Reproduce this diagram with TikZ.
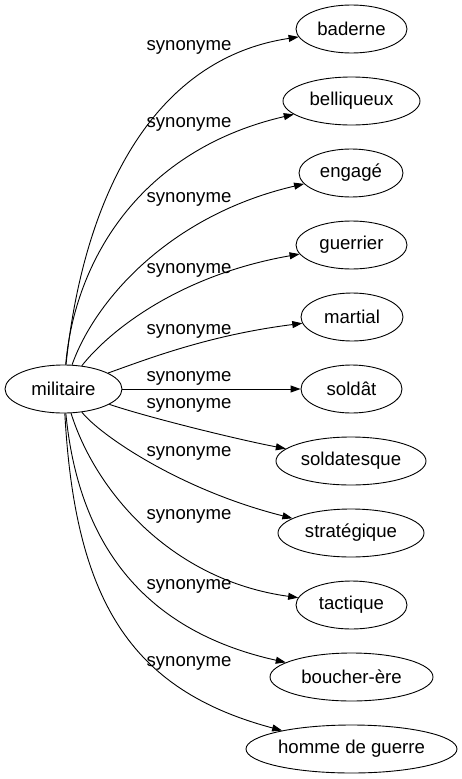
\documentclass[tikz,border=0pt]{standalone}
\usepackage{fontspec}
\setmainfont{Liberation Sans}
\usetikzlibrary{arrows.meta,shapes.geometric}
\begin{document}
\begin{tikzpicture}[x=1pt,y=-1pt,
  word/.style={ellipse,draw,line width=0.9pt,inner sep=0pt,minimum height=48pt,font=\fontsize{18.6}{20}\selectfont},
  syn/.style={font=\fontsize{18.6}{20}\selectfont,inner sep=0pt},
  link/.style={line width=0.9pt,-{Triangle[length=10pt,width=7pt]}}]
\fill[white] (0,0) rectangle (462,779);
\useasboundingbox (0,0) rectangle (462,779);

\node[word,minimum width=117pt] (m) at (63.5,389) {militaire};
\node[word,minimum width=111pt] (t1) at (351.5,29) {baderne};
\node[word,minimum width=137pt] (t2) at (351.5,101) {belliqueux};
\node[word,minimum width=104pt] (t3) at (351,173) {engagé};
\node[word,minimum width=111pt] (t4) at (351.5,245) {guerrier};
\node[word,minimum width=102pt] (t5) at (352,317) {martial};
\node[word,minimum width=101pt] (t6) at (351.5,389) {soldât};
\node[word,minimum width=150pt] (t7) at (351,461) {soldatesque};
\node[word,minimum width=146pt] (t8) at (351,533) {stratégique};
\node[word,minimum width=111pt] (t9) at (351.5,605) {tactique};
\node[word,minimum width=163pt] (t10) at (351.5,677) {boucher-ère};
\node[word,minimum width=211pt] (t11) at (351.5,749) {homme de guerre};

\node[syn] (l1) at (189,47) {synonyme};
\node[syn] (l2) at (189,124) {synonyme};
\node[syn] (l3) at (189,199) {synonyme};
\node[syn] (l4) at (189,270) {synonyme};
\node[syn] (l5) at (189,331) {synonyme};
\node[syn] (l6) at (189,378) {synonyme};
\node[syn] (l7) at (189,405) {synonyme};
\node[syn] (l8) at (189,453) {synonyme};
\node[syn] (l9) at (189,516) {synonyme};
\node[syn] (l10) at (189,586) {synonyme};
\node[syn] (l11) at (189,663) {synonyme};

\draw[link] (m) .. controls (82,210) and (145,60) .. (t1);
\draw[link] (m) .. controls (75,260) and (140,150) .. (t2);
\draw[link] (m) .. controls (95,300) and (170,215) .. (t3);
\draw[link] (m) .. controls (110,330) and (180,275) .. (t4);
\draw[link] (m) .. controls (150,358) and (210,335) .. (t5);
\draw[link] (m) -- (t6);
\draw[link] (m) .. controls (150,418) and (240,440) .. (t7);
\draw[link] (m) .. controls (100,435) and (180,490) .. (t8);
\draw[link] (m) .. controls (95,490) and (170,580) .. (t9);
\draw[link] (m) .. controls (78,540) and (140,630) .. (t10);
\draw[link] (m) .. controls (75,600) and (130,690) .. (t11);
\end{tikzpicture}
\end{document}
